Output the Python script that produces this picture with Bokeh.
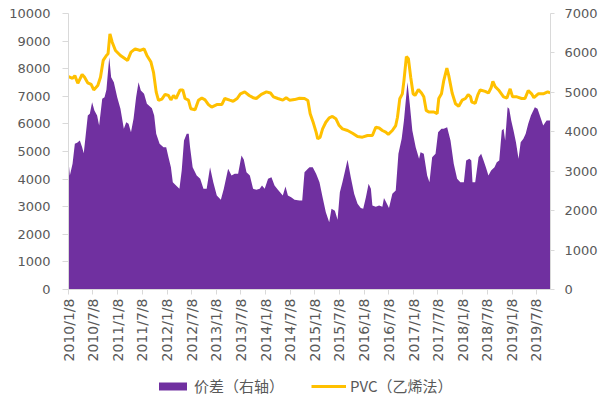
import math
import pandas as pd
from bokeh.plotting import figure
from bokeh.layouts import column
from bokeh.models import (Range1d, LinearAxis, FixedTicker, CustomJSTickFormatter,
                          Legend, LegendItem, ColumnDataSource)
from bokeh.embed import file_html
from bokeh.resources import INLINE

# ---------------- data ----------------
pvc_dates = ["2010-01-08","2010-02-07","2010-02-24","2010-03-18","2010-04-19","2010-05-06","2010-05-30",
    "2010-06-25","2010-07-14","2010-08-13","2010-09-02","2010-09-22","2010-10-16","2010-10-28","2010-11-11",
    "2010-11-28","2010-12-22","2011-01-28","2011-03-04","2011-03-22","2011-04-16","2011-05-17","2011-06-24",
    "2011-07-22","2011-08-12","2011-09-11","2011-09-30","2011-10-20","2011-11-06","2011-12-01","2011-12-25",
    "2012-01-19","2012-02-06","2012-02-25","2012-03-15","2012-04-14","2012-05-04","2012-05-21","2012-06-15",
    "2012-07-02","2012-08-03","2012-08-28","2012-09-22","2012-10-16","2012-11-10","2012-12-04","2013-01-11",
    "2013-02-17","2013-03-11","2013-04-17","2013-05-12","2013-06-11","2013-07-05","2013-08-06","2013-09-08",
    "2013-10-07","2013-10-31","2013-12-07","2014-01-14","2014-02-13","2014-03-07","2014-04-09","2014-05-15",
    "2014-06-09","2014-07-04","2014-08-10","2014-09-16","2014-10-23","2014-11-17","2014-12-04","2014-12-28",
    "2015-01-17","2015-01-29","2015-02-16","2015-03-06","2015-03-30","2015-04-24","2015-05-18","2015-06-12",
    "2015-07-07","2015-07-31","2015-09-07","2015-10-14","2015-11-20","2015-12-26","2016-02-02","2016-03-09",
    "2016-04-03","2016-04-28","2016-05-22","2016-06-16","2016-07-05","2016-08-04","2016-08-29","2016-09-11",
    "2016-09-28","2016-10-17","2016-10-29","2016-11-16","2016-12-01","2016-12-18","2017-01-05","2017-01-19",
    "2017-02-13","2017-03-08","2017-03-25","2017-04-12","2017-05-01","2017-06-08","2017-07-02","2017-07-14",
    "2017-08-03","2017-08-20","2017-09-12","2017-09-26","2017-10-21","2017-11-15","2017-12-09","2018-01-03",
    "2018-01-28","2018-02-17","2018-03-06","2018-03-16","2018-04-10","2018-04-30","2018-05-17","2018-06-23",
    "2018-07-17","2018-08-06","2018-08-19","2018-09-05","2018-09-30","2018-11-06","2018-12-01","2018-12-25",
    "2019-01-12","2019-02-13","2019-03-20","2019-04-14","2019-05-08","2019-06-02","2019-06-19","2019-07-21",
    "2019-08-27","2019-09-29","2019-10-18"]
pvc_values = [7717,7650,7750,7470,7790,7700,7490,
    7430,7230,7390,7690,8300,8480,8540,9260,
    8960,8660,8480,8360,8300,8600,8720,8660,
    8720,8480,8240,7870,7150,6850,6900,7070,
    7030,6870,7030,6920,7230,7230,6920,6860,
    6550,6510,6860,6940,6870,6700,6610,6700,
    6700,6920,6860,6820,6920,7090,7160,7030,
    6950,6920,7070,7160,7120,6980,6920,6860,
    6950,6860,6880,6930,6920,6850,6370,6030,
    5700,5460,5520,5820,6060,6220,6270,6190,
    5940,5820,5760,5660,5540,5520,5580,5580,
    5880,5850,5760,5700,5620,5760,5940,6240,
    6910,7090,7570,8440,8360,7690,7090,7030,
    7250,7120,6980,6490,6430,6430,6370,6920,
    7090,7570,8020,7750,7120,6730,6640,6860,
    6920,7060,6990,6790,6750,7060,7230,7180,
    7120,7310,7540,7350,7230,6980,6940,7270,
    6980,6980,6920,6920,7210,7090,6950,7090,
    7090,7160,7120]

spread_dates = ["2010-01-08","2010-01-18","2010-02-07","2010-02-24","2010-03-13","2010-04-02","2010-04-19",
    "2010-05-01","2010-05-31","2010-06-15","2010-07-02","2010-07-19","2010-08-08","2010-08-23","2010-09-15",
    "2010-10-02","2010-10-16","2010-11-06","2010-11-20","2010-12-10","2011-01-04","2011-01-28","2011-02-22",
    "2011-03-12","2011-03-29","2011-04-16","2011-05-05","2011-05-24","2011-06-11","2011-06-28","2011-07-22",
    "2011-08-12","2011-09-18","2011-10-05","2011-10-20","2011-11-14","2011-12-13","2012-01-02","2012-01-19",
    "2012-02-06","2012-02-20","2012-03-15","2012-04-09","2012-04-26","2012-05-13","2012-06-02","2012-06-17",
    "2012-06-27","2012-07-16","2012-08-15","2012-09-10","2012-10-04","2012-10-28","2012-11-22","2012-12-16",
    "2013-01-11","2013-02-10","2013-03-04","2013-04-05","2013-04-30","2013-05-24","2013-06-18","2013-07-13",
    "2013-07-30","2013-08-19","2013-09-13","2013-10-07","2013-10-31","2013-11-25","2013-12-12","2014-01-01",
    "2014-01-26","2014-02-20","2014-03-15","2014-04-09","2014-05-15","2014-06-04","2014-06-22","2014-07-16",
    "2014-08-10","2014-09-16","2014-10-06","2014-10-23","2014-11-17","2014-11-29","2014-12-23","2015-01-17",
    "2015-02-11","2015-03-06","2015-03-30","2015-04-24","2015-05-11","2015-06-05","2015-06-25","2015-07-12",
    "2015-07-31","2015-08-20","2015-09-07","2015-10-01","2015-10-26","2015-11-20","2015-12-14","2016-01-01",
    "2016-01-21","2016-02-10","2016-02-27","2016-03-09","2016-04-03","2016-04-28","2016-05-22","2016-06-03",
    "2016-06-21","2016-07-10","2016-08-04","2016-08-29","2016-09-18","2016-10-12","2016-10-29","2016-11-24",
    "2016-12-11","2016-12-30","2017-01-24","2017-02-18","2017-03-01","2017-03-25","2017-04-19","2017-05-06",
    "2017-05-26","2017-06-20","2017-07-09","2017-08-03","2017-08-20","2017-09-14","2017-10-09","2017-11-02",
    "2017-11-27","2017-12-21","2018-01-16","2018-02-02","2018-02-26","2018-03-12","2018-03-21","2018-04-10",
    "2018-05-05","2018-05-24","2018-06-11","2018-06-28","2018-07-17","2018-08-06","2018-08-31","2018-09-17",
    "2018-10-05","2018-10-24","2018-11-06","2018-11-18","2018-12-06","2018-12-18","2019-01-02","2019-01-19",
    "2019-02-06","2019-02-25","2019-03-13","2019-04-02","2019-04-19","2019-05-08","2019-05-28","2019-06-26",
    "2019-07-16","2019-08-02","2019-08-27","2019-09-21","2019-10-18"]
spread_values = [3271,2891,3188,3695,3720,3779,3610,
    3457,4413,4456,4750,4540,4413,4159,4836,
    4878,5064,5891,5384,5258,4878,4582,4075,
    4244,4202,3990,4328,4878,5258,5046,4962,
    4709,4600,4413,3948,3695,3610,3610,3356,
    3103,2721,2636,2553,3019,3779,3948,3948,
    3610,3103,2891,2807,2553,2553,3103,2721,
    2384,2274,2553,3061,2891,2933,2933,3398,
    3300,2976,2891,2553,2530,2553,2636,2553,
    2807,2850,2636,2527,2384,2611,2384,2342,
    2274,2257,2257,2975,3061,3103,3103,2933,
    2721,2342,1961,1707,2045,2000,1766,2468,
    2721,3019,3290,2850,2427,2173,2070,2045,
    2342,2680,2553,2130,2100,2130,2100,2320,
    2200,2070,2427,2510,3441,3822,4286,5258,
    4709,4032,3610,3314,3483,3441,2891,2721,
    3356,3441,3990,4075,4075,4117,3779,3187,
    2807,2721,2721,3272,3314,3272,2721,2721,
    3356,3441,3272,3103,2891,3019,3103,3230,
    3272,4032,4075,3779,4624,4582,4286,4030,
    3737,3314,3737,3822,3948,4201,4413,4624,
    4582,4413,4159,4286,4286]

tick_dates = ["2010-01-08","2010-07-08","2011-01-08","2011-07-08","2012-01-08","2012-07-08",
    "2013-01-08","2013-07-08","2014-01-08","2014-07-08","2015-01-08","2015-07-08",
    "2016-01-08","2016-07-08","2017-01-08","2017-07-08","2018-01-08","2018-07-08",
    "2019-01-08","2019-07-08"]
tick_labels = ["2010/1/8","2010/7/8","2011/1/8","2011/7/8","2012/1/8","2012/7/8",
    "2013/1/8","2013/7/8","2014/1/8","2014/7/8","2015/1/8","2015/7/8",
    "2016/1/8","2016/7/8","2017/1/8","2017/7/8","2018/1/8","2018/7/8",
    "2019/1/8","2019/7/8"]
left_ticks = [0,1000,2000,3000,4000,5000,6000,7000,8000,9000,10000]
right_ticks = [0,1000,2000,3000,4000,5000,6000,7000]
series_names = ["价差（右轴）", "PVC（乙烯法）"]

# ---------------- figure ----------------
def ms(d):
    return pd.Timestamp(d).value / 1e6

NUMFONT = "DejaVu Sans"
CJKFONT = "Noto Sans CJK SC"
TXT = "#595959"
AX = "#D9D9D9"
PURPLE = "#7030A0"
GOLD = "#FFC000"

p = figure(width=600, height=365, x_axis_type="datetime", output_backend="svg",
           toolbar_location=None,
           x_range=Range1d(ms("2010-01-08"), ms("2019-10-20")),
           y_range=Range1d(0, 10000),
           min_border_left=68, min_border_right=47, min_border_top=13, min_border_bottom=76)
p.outline_line_color = None
p.xgrid.visible = False
p.ygrid.visible = False
p.background_fill_color = "white"
p.border_fill_color = "white"
p.extra_y_ranges = {"right": Range1d(0, 7000)}

src_s = ColumnDataSource(dict(x=pd.to_datetime(spread_dates), y=spread_values))
src_p = ColumnDataSource(dict(x=pd.to_datetime(pvc_dates), y=pvc_values))

p.varea(x="x", y1=0, y2="y", source=src_s, y_range_name="right",
        fill_color=PURPLE, fill_alpha=1.0)
p.line(x="x", y="y", source=src_p, line_color=GOLD, line_width=3)

# x axis
xa = p.xaxis[0]
tick_ms = [ms(d) for d in tick_dates]
xa.ticker = FixedTicker(ticks=tick_ms)
xa.formatter = CustomJSTickFormatter(code="""
const d = new Date(tick);
return d.getUTCFullYear() + "/" + (d.getUTCMonth()+1) + "/" + d.getUTCDate();
""")
xa.major_label_overrides = {t: l for t, l in zip(tick_ms, tick_labels)}
xa.major_label_orientation = math.pi / 2
xa.major_label_text_font = NUMFONT
xa.major_label_text_font_size = "14px"
xa.major_label_text_color = TXT
xa.axis_line_color = AX
xa.major_tick_line_color = AX
xa.major_tick_out = 5
xa.major_tick_in = 0
xa.minor_tick_line_color = None
xa.major_label_standoff = 4

# left axis
ya = p.yaxis[0]
ya.ticker = FixedTicker(ticks=left_ticks)
ya.major_label_text_font = NUMFONT
ya.major_label_text_font_size = "13px"
ya.major_label_text_color = TXT
ya.axis_line_color = AX
ya.major_tick_line_color = AX
ya.major_tick_out = 6
ya.major_tick_in = 0
ya.minor_tick_line_color = None
ya.major_label_standoff = 12

# right axis
ra = LinearAxis(y_range_name="right", ticker=FixedTicker(ticks=right_ticks))
ra.major_label_text_font = NUMFONT
ra.major_label_text_font_size = "13px"
ra.major_label_text_color = TXT
ra.axis_line_color = AX
ra.major_tick_line_color = AX
ra.major_tick_out = 4
ra.major_tick_in = 0
ra.minor_tick_line_color = None
ra.major_label_standoff = 10
p.add_layout(ra, "right")

# ---------------- legend strip ----------------
lg = figure(width=600, height=36, output_backend="svg", toolbar_location=None,
            x_axis_location=None, y_axis_location=None,
            x_range=Range1d(0, 1), y_range=Range1d(0, 1),
            min_border_left=0, min_border_right=0, min_border_top=0, min_border_bottom=0)
lg.xgrid.visible = False
lg.ygrid.visible = False
lg.outline_line_color = None
lg.background_fill_color = "white"
lg.border_fill_color = "white"
# swatch renderers (kept outside the visible range; only their legend glyphs are shown)
r_area = lg.varea(x=[5, 6], y1=[5, 5], y2=[6, 6], fill_color=PURPLE, fill_alpha=1.0)
r_line = lg.line(x=[5, 6], y=[5, 5], line_color=GOLD, line_width=3)

legend = Legend(items=[LegendItem(label=series_names[0], renderers=[r_area]),
                       LegendItem(label=series_names[1], renderers=[r_line])],
                orientation="horizontal", location=(87, 5),
                glyph_width=35, glyph_height=10, label_height=10,
                label_text_font=CJKFONT, label_text_font_size="15px", label_text_color=TXT,
                label_standoff=4, spacing=27, padding=0, margin=0,
                border_line_color=None, background_fill_alpha=0)
lg.add_layout(legend, "center")

open("out.html", "w").write(file_html(column(p, lg, spacing=0), INLINE))
